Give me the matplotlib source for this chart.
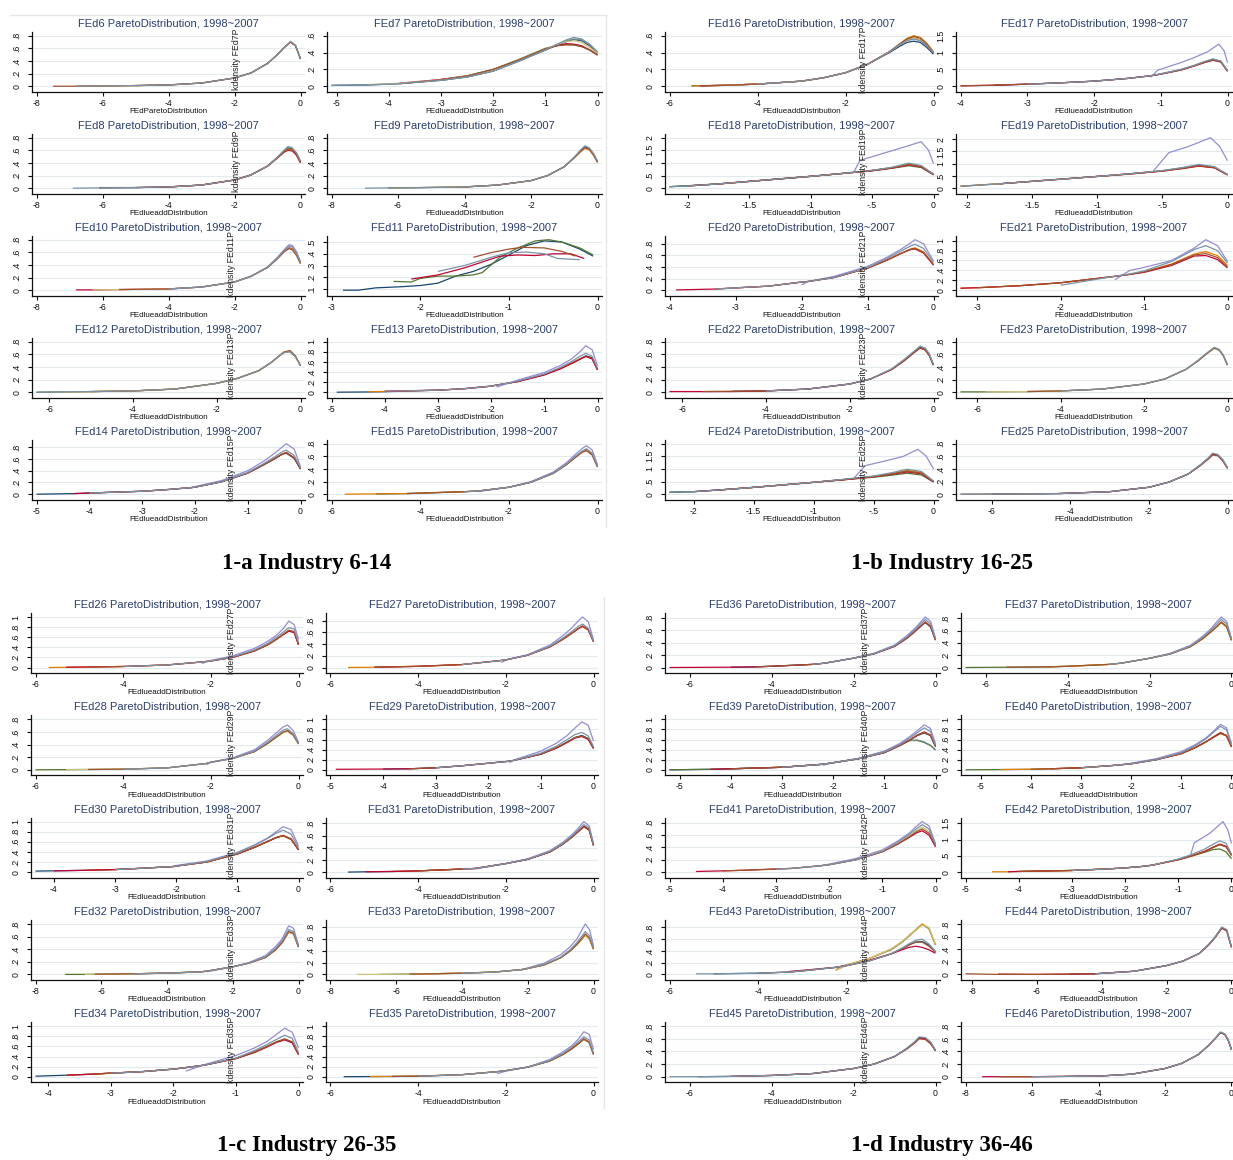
import matplotlib
matplotlib.use('Agg')
import matplotlib.pyplot as plt
import numpy as np

plt.rcParams['font.family'] = ['Liberation Sans Narrow', 'Arial Narrow', 'DejaVu Sans Condensed', 'Liberation Sans', 'DejaVu Sans']

# Stata s2color palette (one colour per year 1998..2007)
COL = {'navy': '#1a476f', 'maroon': '#90353b', 'green': '#55752f', 'orange': '#e37e00',
       'teal': '#6e8e84', 'red': '#c10534', 'lav': '#938dd2', 'khaki': '#cac27e',
       'sienna': '#a0522d', 'blue': '#7b92a8'}
YEAR_ORDER = ['navy', 'maroon', 'green', 'orange', 'teal', 'red', 'lav', 'khaki', 'sienna', 'blue']

YT8 = [0, .2, .4, .6, .8]
YT1 = [0, .2, .4, .6, .8, 1]
XT8 = [-8, -6, -4, -2, 0]
XT6 = [-6, -4, -2, 0]
XT5 = [-5, -4, -3, -2, -1, 0]
XT4 = [-4, -3, -2, -1, 0]
XT2 = [-2, -1.5, -1, -.5, 0]

# ---------------- 1-a Industry 6-14 ----------------
FEd6 = dict(name='FEd6', xl='FEdParetoDistribution', xt=XT8, yt=YT8,
    x=[-7.5, -6.8, -6, -5, -4, -3, -2, -1.5, -1, -0.7, -0.5, -0.3, -0.15, 0],
    lines=[('sienna', [0, 0, .003, .01, .02, .05, .13, .21, .36, .50, .61, .70, .64, .43]),
           ('orange', [0, .003, .01, .02, .05, .13, .21, .36, .50, .61, .70, .64, .43]),
           ('navy', [.01, .02, .05, .13, .21, .36, .50, .61, .70, .64, .43]),
           ('blue', [0, .004, .01, .02, .05, .13, .21, .36, .50, .61, .71, .65, .44])])
FEd7 = dict(name='FEd7', xt=XT5, yt=[0, .2, .4, .6],
    x=[-5.1, -4.4, -3.8, -3, -2.5, -2, -1.5, -1, -0.8, -0.6, -0.45, -0.3, -0.15, 0],
    lines=[('navy', [.01, .015, .03, .07, .11, .18, .30, .43, .48, .53, .555, .54, .48, .40]),
           ('khaki', [.02, .035, .075, .12, .19, .31, .44, .49, .53, .54, .52, .46, .39]),
           ('sienna', [.03, .075, .12, .2, .31, .44, .48, .49, .49, .47, .43, .37]),
           ('green', [.08, .125, .2, .32, .45, .48, .50, .49, .47, .43, .38]),
           ('red', [.035, .08, .12, .19, .31, .44, .48, .505, .50, .48, .43, .37]),
           ('teal', [.07, .11, .18, .30, .43, .49, .54, .56, .55, .49, .40]),
           ('blue', [.01, .015, .03, .07, .11, .18, .30, .43, .49, .55, .58, .56, .50, .41])])
FEd8 = dict(name='FEd8', xt=XT8, yt=YT8,
    x=[-6.9, -6.1, -5, -4, -3, -2, -1.5, -1, -0.7, -0.5, -0.38, -0.25, -0.12, 0],
    lines=[('navy', [.005, .01, .02, .05, .13, .21, .35, .49, .59, .64, .62, .55, .42]),
           ('sienna', [.01, .01, .02, .05, .13, .21, .35, .48, .57, .61, .60, .53, .41]),
           ('red', [.01, .02, .05, .13, .21, .35, .48, .57, .60, .59, .52, .40]),
           ('orange', [.02, .05, .13, .21, .35, .48, .58, .62, .61, .53, .41]),
           ('blue', [0, .005, .01, .02, .05, .13, .21, .35, .49, .60, .66, .64, .56, .43])])
FEd9 = dict(name='FEd9', xt=XT8, yt=YT8,
    x=[-7, -6.3, -5.5, -4, -3, -2, -1.5, -1, -0.7, -0.5, -0.38, -0.25, -0.12, 0],
    lines=[('orange', [.01, .01, .02, .05, .12, .20, .34, .48, .58, .63, .61, .52, .41]),
           ('sienna', [.02, .05, .12, .20, .34, .48, .59, .64, .62, .53, .41]),
           ('navy', [.005, .008, .02, .05, .12, .20, .34, .49, .60, .66, .63, .54, .42]),
           ('blue', [0, .005, .008, .02, .05, .12, .20, .34, .49, .61, .67, .64, .55, .43])])
FEd10 = dict(name='FEd10', xt=XT8, yt=YT8,
    x=[-6.8, -6.3, -5.5, -4, -3, -2, -1.5, -1, -0.7, -0.5, -0.35, -0.25, -0.12, 0],
    lines=[('red', [.005, .005, .01, .02, .05, .13, .22, .36, .50, .61, .67, .66, .57, .43]),
           ('khaki', [.005, .01, .02, .05, .13, .22, .36, .50, .61, .66, .65, .56, .42]),
           ('sienna', [.01, .02, .05, .13, .22, .36, .50, .61, .66, .64, .55, .42]),
           ('blue', [.02, .05, .13, .22, .36, .51, .63, .70, .69, .59, .44]),
           ('lav', [.02, .05, .13, .22, .37, .52, .64, .72, .71, .61, .45])])
FEd11 = dict(name='FEd11', xt=[-3, -2, -1, 0], yt=[.1, .2, .3, .4, .5], x=None,
    lines=[('navy', [-2.87, -2.7, -2.5, -2.2, -2, -1.8, -1.6, -1.4, -1.2, -1, -0.8, -0.6, -0.4, -0.2, -0.05],
                    [.09, .09, .11, .12, .13, .15, .21, .25, .31, .39, .47, .51, .50, .44, .38]),
           ('green', [-2.3, -2.1, -2, -1.8, -1.6, -1.4, -1.3, -1.1, -0.9, -0.7, -0.55, -0.4, -0.2, -0.05],
                     [.165, .16, .19, .21, .21, .22, .24, .37, .45, .51, .52, .50, .45, .39]),
           ('sienna', [-1.4, -1.2, -1, -0.85, -0.6, -0.4, -0.25], [.37, .41, .44, .455, .45, .42, .38]),
           ('blue', [-1.8, -1.5, -1.2, -1, -0.8, -0.6, -0.45, -0.2], [.25, .30, .37, .41, .415, .40, .36, .35]),
           ('red', [-2.1, -1.8, -1.5, -1.3, -1.1, -0.9, -0.7, -0.5, -0.3, -0.15],
                   [.185, .22, .28, .33, .38, .39, .385, .40, .40, .36])])
FEd12 = dict(name='FEd12', xt=XT6, yt=YT8,
    x=[-6.3, -5.6, -5, -4, -3, -2, -1.5, -1, -0.7, -0.5, -0.38, -0.25, -0.12, 0],
    lines=[('orange', [.005, .01, .02, .05, .14, .22, .34, .47, .58, .64, .64, .56, .42]),
           ('sienna', [.01, .02, .05, .14, .22, .34, .47, .58, .64, .66, .57, .42]),
           ('blue', [0, .005, .01, .02, .05, .14, .22, .34, .47, .58, .63, .64, .56, .42]),
           ('khaki', [.005, .01, .02, .05, .14, .22, .34, .47, .58, .64, .64, .56, .42]),
           ('green', [0, .005, .01, .02, .05, .14, .22, .34, .47, .58, .64, .65, .57, .42])])
FEd13 = dict(name='FEd13', xt=XT5, yt=YT1,
    x=[-4.9, -4.3, -4, -3, -2.5, -2, -1.9, -1.5, -1, -0.7, -0.5, -0.35, -0.22, -0.1, 0],
    lines=[('navy', [0, .005, .01, .04, .07, .12, .14, .21, .35, .47, .57, .65, .72, .68, .45]),
           ('orange', [.01, .015, .04, .07, .12, .14, .21, .35, .47, .57, .65, .71, .66, .44]),
           ('red', [.02, .04, .07, .12, .14, .21, .34, .46, .56, .64, .71, .66, .44]),
           ('blue', [.02, .04, .07, .12, .14, .22, .36, .49, .60, .70, .77, .71, .47]),
           ('lav', [.10, .24, .39, .53, .65, .78, .92, .84, .52])])
FEd14 = dict(name='FEd14', xt=XT5, yt=YT8,
    x=[-5, -4.3, -4, -3, -2.5, -2.1, -2, -1.5, -1, -0.7, -0.5, -0.35, -0.27, -0.12, 0],
    lines=[('navy', [0, .01, .02, .05, .08, .11, .12, .21, .36, .50, .60, .68, .70, .61, .43]),
           ('red', [.01, .02, .05, .08, .11, .12, .21, .36, .50, .60, .68, .71, .62, .43]),
           ('sienna', [.02, .05, .08, .11, .12, .21, .36, .50, .60, .68, .71, .62, .43]),
           ('blue', [.02, .05, .08, .11, .12, .21, .37, .52, .63, .72, .75, .66, .45]),
           ('lav', [.09, .13, .23, .40, .56, .69, .80, .86, .77, .47])])
FEd15 = dict(name='FEd15', xt=XT6, yt=YT8,
    x=[-5.7, -5, -4.3, -3, -2.7, -2, -1.5, -1, -0.7, -0.5, -0.35, -0.25, -0.12, 0],
    lines=[('orange', [0, .005, .01, .04, .05, .11, .19, .33, .47, .59, .67, .70, .63, .43]),
           ('navy', [.005, .01, .04, .05, .11, .19, .33, .47, .59, .67, .71, .64, .44]),
           ('sienna', [.01, .04, .05, .11, .19, .33, .47, .58, .66, .69, .62, .43]),
           ('blue', [.04, .05, .11, .19, .33, .48, .60, .68, .72, .65, .44]),
           ('lav', [.04, .11, .20, .35, .50, .63, .72, .77, .70, .47])])

# ---------------- 1-b Industry 16-25 ----------------
FEd16 = dict(name='FEd16', xt=XT6, yt=[0, .2, .4, .6],
    x=[-5.5, -5.3, -4.8, -4, -3, -2.5, -2, -1.5, -1, -0.75, -0.6, -0.45, -0.3, -0.15, 0],
    lines=[('navy', [.005, .005, .01, .025, .06, .10, .16, .26, .40, .48, .52, .535, .52, .46, .38]),
           ('red', [.005, .01, .025, .06, .10, .16, .26, .41, .50, .55, .57, .55, .48, .40]),
           ('khaki', [.01, .025, .06, .10, .16, .26, .41, .50, .55, .57, .55, .49, .40]),
           ('blue', [.025, .06, .10, .16, .26, .41, .50, .54, .56, .54, .48, .40]),
           ('sienna', [.005, .01, .025, .06, .10, .16, .26, .41, .51, .56, .59, .57, .50, .40]),
           ('orange', [.005, .005, .01, .025, .06, .10, .16, .26, .41, .51, .57, .60, .58, .51, .41])])
FEd17 = dict(name='FEd17', xt=XT4, yt=[0, .5, 1, 1.5],
    x=[-4, -3.5, -3, -2.5, -2, -1.5, -1.15, -1, -0.7, -0.5, -0.35, -0.22, -0.1, 0],
    lines=[('red', [.01, .03, .06, .1, .15, .23, .31, .36, .48, .60, .70, .77, .72, .44]),
           ('sienna', [.01, .03, .06, .1, .15, .23, .31, .36, .48, .60, .70, .78, .72, .45]),
           ('navy', [.03, .06, .1, .15, .23, .31, .36, .49, .61, .72, .80, .74, .46]),
           ('blue', [.06, .1, .15, .23, .31, .37, .50, .62, .73, .81, .75, .46]),
           ('lav', [-1.15, -1.05, -0.9, -0.7, -0.5, -0.3, -0.13, -0.05, 0],
                   [.26, .47, .57, .70, .85, 1.02, 1.25, 1.05, .70])])
FEd18 = dict(name='FEd18', xt=XT2, yt=[0, .5, 1, 1.5, 2],
    x=[-2.15, -2, -1.75, -1.5, -1.25, -1, -0.75, -0.5, -0.35, -0.2, -0.1, 0],
    lines=[('green', [.06, .10, .17, .27, .37, .47, .58, .69, .78, .89, .82, .53]),
           ('red', [.09, .17, .27, .37, .47, .58, .69, .79, .92, .84, .54]),
           ('navy', [.06, .09, .17, .27, .37, .47, .58, .70, .80, .95, .86, .55]),
           ('orange', [.17, .27, .37, .47, .58, .70, .80, .94, .86, .55]),
           ('sienna', [.09, .17, .27, .37, .47, .58, .70, .80, .93, .85, .55]),
           ('blue', [.06, .09, .17, .27, .37, .47, .58, .71, .82, .99, .90, .56]),
           ('lav', [-0.65, -0.6, -0.45, -0.3, -0.1, -0.04, 0], [.62, 1.1, 1.32, 1.54, 1.84, 1.5, .98])])
FEd19 = dict(name='FEd19', xt=XT2, yt=[0, .5, 1, 1.5, 2],
    x=[-2.05, -1.75, -1.5, -1.25, -1, -0.75, -0.5, -0.35, -0.22, -0.1, 0],
    lines=[('orange', [.08, .18, .28, .38, .48, .58, .70, .80, .91, .84, .55]),
           ('red', [.18, .28, .38, .48, .58, .70, .80, .90, .83, .54]),
           ('sienna', [.18, .28, .38, .48, .58, .70, .81, .92, .84, .55]),
           ('navy', [.08, .18, .28, .38, .48, .59, .71, .82, .93, .85, .55]),
           ('blue', [.08, .18, .28, .38, .48, .59, .72, .84, .97, .88, .56]),
           ('lav', [-0.57, -0.45, -0.3, -0.13, -0.06, 0], [.70, 1.45, 1.7, 2.06, 1.7, 1.12])])
FEd20 = dict(name='FEd20', xt=XT4, yt=YT8,
    x=[-3.9, -3.3, -3, -2.5, -2, -1.9, -1.5, -1, -0.7, -0.5, -0.35, -0.28, -0.15, 0],
    lines=[('red', [.005, .02, .04, .07, .14, .15, .22, .38, .52, .63, .70, .71, .64, .43]),
           ('sienna', [.02, .04, .07, .14, .15, .22, .38, .52, .63, .70, .72, .65, .44]),
           ('orange', [.04, .07, .14, .15, .22, .38, .52, .63, .71, .73, .66, .44]),
           ('blue', [.02, .04, .07, .14, .15, .22, .39, .55, .67, .76, .79, .72, .48]),
           ('lav', [.09, .15, .24, .41, .57, .70, .81, .87, .80, .50])])
FEd21 = dict(name='FEd21', xt=[-3, -2, -1, 0], yt=YT1,
    x=[-3.2, -3, -2.5, -2, -1.5, -1.35, -1.17, -1, -0.67, -0.4, -0.26, -0.12, 0],
    lines=[('orange', [.04, .05, .09, .15, .25, .28, .32, .37, .53, .73, .78, .70, .50]),
           ('sienna', [.05, .09, .15, .25, .28, .32, .37, .52, .71, .74, .66, .47]),
           ('red', [.04, .05, .09, .15, .25, .28, .32, .36, .50, .69, .70, .62, .45]),
           ('blue', [.10, .24, .28, .33, .39, .58, .82, .90, .80, .55]),
           ('lav', [.21, .40, .46, .60, .85, 1.02, .90, .58])])
FEd22 = dict(name='FEd22', xt=XT6, yt=YT8,
    x=[-6.3, -5.5, -4.8, -4, -3, -2, -1.5, -1, -0.7, -0.5, -0.32, -0.2, -0.1, 0],
    lines=[('red', [.01, .01, .01, .02, .05, .13, .21, .36, .50, .61, .70, .67, .58, .43]),
           ('sienna', [.01, .015, .02, .05, .13, .21, .36, .50, .61, .70, .67, .58, .43]),
           ('navy', [.015, .02, .05, .13, .21, .36, .50, .61, .71, .68, .59, .43]),
           ('blue', [.02, .05, .13, .21, .37, .52, .63, .73, .70, .61, .44])])
FEd23 = dict(name='FEd23', xt=XT6, yt=YT8,
    x=[-6.4, -5.8, -4.8, -4, -3, -2, -1.5, -1, -0.7, -0.5, -0.32, -0.2, -0.1, 0],
    lines=[('green', [.005, .005, .01, .02, .05, .13, .21, .36, .50, .61, .70, .67, .58, .43]),
           ('khaki', [.005, .01, .02, .05, .13, .21, .36, .50, .61, .69, .66, .57, .43]),
           ('sienna', [.01, .02, .05, .13, .21, .36, .50, .61, .70, .67, .58, .43]),
           ('blue', [.02, .05, .13, .21, .36, .51, .62, .71, .68, .59, .43])])
FEd24 = dict(name='FEd24', xt=XT2, yt=[0, .5, 1, 1.5, 2],
    x=[-2.2, -2, -1.75, -1.5, -1.25, -1, -0.75, -0.5, -0.35, -0.22, -0.1, 0],
    lines=[('green', [.07, .10, .18, .27, .37, .47, .57, .67, .75, .83, .76, .48]),
           ('red', [.10, .18, .27, .37, .47, .57, .69, .79, .88, .81, .49]),
           ('navy', [.08, .10, .18, .27, .37, .47, .58, .70, .81, .92, .84, .50]),
           ('sienna', [.18, .27, .37, .47, .58, .70, .80, .91, .83, .50]),
           ('orange', [.18, .27, .37, .47, .58, .70, .82, .94, .86, .51]),
           ('blue', [.08, .10, .18, .27, .37, .47, .59, .72, .85, .99, .90, .52]),
           ('lav', [-0.66, -0.57, -0.4, -0.25, -0.13, -0.06, 0], [.65, 1.13, 1.32, 1.5, 1.78, 1.5, 1.0])])
FEd25 = dict(name='FEd25', xt=XT6, yt=YT8,
    x=[-6.8, -6, -5, -4.3, -3, -2, -1.5, -1, -0.7, -0.5, -0.38, -0.25, -0.12, 0],
    lines=[('sienna', [0, .003, .005, .01, .04, .11, .19, .32, .45, .55, .62, .61, .53, .41]),
           ('navy', [.003, .005, .01, .04, .11, .19, .32, .46, .56, .64, .62, .54, .42]),
           ('red', [.01, .04, .11, .19, .32, .45, .56, .63, .62, .53, .41]),
           ('blue', [0, .003, .005, .01, .04, .11, .19, .32, .46, .57, .65, .63, .55, .42])])

# ---------------- 1-c Industry 26-35 ----------------
FEd26 = dict(name='FEd26', xt=XT6, yt=YT1,
    x=[-5.7, -5.3, -4.8, -4, -3, -2.2, -2, -1.5, -1, -0.7, -0.5, -0.35, -0.22, -0.1, 0],
    lines=[('orange', [0, .005, .01, .02, .05, .11, .13, .20, .33, .45, .56, .65, .73, .70, .45]),
           ('red', [.005, .01, .02, .05, .11, .13, .20, .33, .45, .56, .65, .72, .69, .45]),
           ('sienna', [.01, .02, .05, .11, .13, .20, .33, .45, .56, .66, .74, .71, .46]),
           ('blue', [.02, .05, .11, .13, .21, .35, .48, .60, .70, .79, .76, .50]),
           ('lav', [.08, .14, .23, .38, .52, .64, .77, .92, .85, .56])])
FEd27 = dict(name='FEd27', xt=XT6, yt=YT8,
    x=[-5.6, -5, -4, -3, -2.1, -2, -1.5, -1, -0.7, -0.5, -0.35, -0.25, -0.12, 0],
    lines=[('orange', [0, .005, .02, .05, .12, .13, .21, .35, .48, .58, .66, .70, .64, .44]),
           ('red', [.005, .02, .05, .12, .13, .21, .35, .48, .58, .66, .70, .64, .44]),
           ('sienna', [.005, .02, .05, .12, .13, .21, .35, .48, .58, .66, .71, .65, .44]),
           ('blue', [.05, .12, .13, .21, .36, .50, .61, .70, .74, .67, .45]),
           ('lav', [.08, .13, .22, .38, .54, .67, .79, .86, .78, .47])])
FEd28 = dict(name='FEd28', xt=XT6, yt=YT8,
    x=[-6, -5.3, -4.8, -4, -3, -2.1, -2, -1.5, -1, -0.7, -0.5, -0.35, -0.25, -0.12, 0],
    lines=[('green', [0, .003, .005, .01, .03, .10, .12, .18, .29, .42, .52, .59, .62, .55, .41]),
           ('khaki', [.003, .005, .01, .03, .10, .12, .18, .29, .42, .52, .59, .61, .54, .41]),
           ('sienna', [.005, .01, .03, .10, .12, .18, .29, .42, .52, .60, .62, .55, .41]),
           ('blue', [.01, .03, .10, .12, .18, .30, .44, .55, .63, .65, .57, .42]),
           ('lav', [.08, .12, .19, .32, .47, .59, .68, .71, .62, .44])])
FEd29 = dict(name='FEd29', xt=XT5, yt=YT1,
    x=[-4.9, -4, -3.5, -3, -2.5, -2, -1.6, -1.5, -1, -0.7, -0.5, -0.35, -0.22, -0.1, 0],
    lines=[('red', [.01, .015, .02, .04, .08, .13, .17, .19, .31, .43, .54, .63, .66, .60, .42]),
           ('sienna', [.02, .04, .08, .13, .17, .19, .31, .44, .55, .64, .67, .61, .43]),
           ('navy', [.015, .02, .04, .08, .13, .17, .19, .31, .44, .55, .64, .68, .62, .43]),
           ('blue', [.04, .08, .13, .17, .19, .33, .47, .60, .70, .74, .67, .46]),
           ('lav', [.14, .20, .37, .53, .68, .83, .95, .88, .57])])
FEd30 = dict(name='FEd30', xt=XT4, yt=YT1,
    x=[-4.3, -4, -3.5, -3, -2.5, -2.05, -2, -1.5, -1, -0.7, -0.5, -0.35, -0.25, -0.12, 0],
    lines=[('navy', [.02, .025, .035, .05, .08, .11, .12, .20, .36, .50, .61, .69, .72, .65, .44]),
           ('red', [.025, .035, .05, .08, .11, .12, .20, .36, .50, .61, .69, .72, .65, .44]),
           ('orange', [.035, .05, .08, .11, .12, .20, .36, .50, .61, .69, .73, .66, .44]),
           ('sienna', [.05, .08, .11, .12, .20, .36, .50, .61, .69, .72, .65, .44]),
           ('blue', [.05, .08, .11, .12, .21, .38, .54, .67, .78, .83, .75, .48]),
           ('lav', [.10, .13, .22, .39, .55, .68, .81, .90, .84, .52])])
FEd31 = dict(name='FEd31', xt=XT6, yt=YT8,
    x=[-5.6, -5.2, -4.6, -4, -3, -2.7, -2, -1.5, -1, -0.7, -0.5, -0.35, -0.22, -0.1, 0],
    lines=[('navy', [0, .005, .01, .02, .05, .06, .14, .21, .33, .46, .57, .67, .75, .70, .44]),
           ('red', [.005, .01, .02, .05, .06, .14, .21, .33, .46, .57, .67, .75, .70, .44]),
           ('orange', [.01, .02, .05, .06, .14, .21, .33, .46, .57, .67, .75, .70, .44]),
           ('sienna', [.02, .05, .06, .14, .21, .33, .46, .57, .66, .74, .69, .44]),
           ('blue', [.05, .06, .14, .21, .34, .47, .59, .69, .78, .73, .46]),
           ('lav', [.05, .14, .22, .35, .49, .61, .72, .83, .76, .47])])
FEd32 = dict(name='FEd32', xt=XT8, yt=YT8,
    x=[-7.1, -6.5, -6.2, -5, -4, -3, -2.8, -2, -1.5, -1, -0.7, -0.5, -0.3, -0.15, 0],
    lines=[('green', [0, 0, .003, .01, .02, .04, .05, .12, .18, .27, .39, .51, .68, .65, .44]),
           ('khaki', [0, .003, .01, .02, .04, .05, .12, .18, .27, .39, .51, .67, .64, .44]),
           ('sienna', [.003, .01, .02, .04, .05, .12, .18, .27, .39, .51, .68, .65, .44]),
           ('red', [.01, .02, .04, .05, .12, .18, .27, .39, .50, .67, .64, .43]),
           ('blue', [.01, .02, .04, .05, .12, .18, .28, .41, .53, .71, .68, .45]),
           ('lav', [.04, .12, .19, .30, .44, .56, .77, .73, .46])])
FEd33 = dict(name='FEd33', xt=XT8, yt=YT8,
    x=[-7.2, -6.5, -5.6, -5, -4, -3, -2.2, -2, -1.5, -1, -0.7, -0.5, -0.25, -0.12, 0],
    lines=[('khaki', [0, 0, .005, .01, .02, .04, .08, .10, .16, .28, .40, .51, .67, .60, .43]),
           ('green', [0, .005, .01, .02, .04, .08, .10, .16, .28, .40, .51, .66, .60, .43]),
           ('sienna', [.005, .01, .02, .04, .08, .10, .16, .28, .40, .51, .68, .61, .43]),
           ('orange', [.005, .01, .02, .04, .08, .10, .16, .28, .40, .50, .66, .59, .42]),
           ('blue', [.02, .04, .08, .10, .17, .29, .42, .54, .72, .65, .45]),
           ('lav', [.07, .11, .19, .33, .47, .60, .85, .75, .48])])
FEd34 = dict(name='FEd34', xt=XT4, yt=YT1,
    x=[-4.2, -3.7, -3.3, -3, -2.5, -2, -1.8, -1.5, -1, -0.7, -0.5, -0.35, -0.22, -0.1, 0],
    lines=[('navy', [.01, .03, .05, .07, .10, .15, .18, .23, .36, .49, .60, .69, .74, .68, .44]),
           ('orange', [.03, .05, .07, .10, .15, .18, .23, .36, .49, .60, .69, .74, .68, .44]),
           ('red', [.03, .05, .07, .10, .15, .18, .23, .36, .48, .59, .68, .73, .67, .44]),
           ('sienna', [.05, .07, .10, .15, .18, .23, .36, .49, .60, .69, .75, .69, .45]),
           ('blue', [.07, .10, .15, .18, .23, .37, .52, .64, .74, .82, .76, .48]),
           ('lav', [.11, .24, .42, .57, .70, .84, .96, .88, .57])])
FEd35 = dict(name='FEd35', xt=XT6, yt=YT1,
    x=[-5.7, -5.1, -4.6, -4, -3, -2.2, -2, -1.5, -1, -0.7, -0.5, -0.35, -0.22, -0.1, 0],
    lines=[('navy', [0, .003, .005, .01, .04, .10, .12, .19, .31, .44, .55, .65, .74, .68, .44]),
           ('orange', [.003, .005, .01, .04, .10, .12, .19, .31, .44, .55, .65, .74, .68, .44]),
           ('sienna', [.005, .01, .04, .10, .12, .19, .31, .44, .55, .65, .75, .69, .45]),
           ('blue', [.01, .04, .10, .12, .19, .32, .46, .58, .69, .79, .73, .47]),
           ('lav', [.06, .11, .19, .34, .49, .61, .74, .89, .84, .54])])

# ---------------- 1-d Industry 36-46 ----------------
FEd36 = dict(name='FEd36', xt=XT6, yt=YT8,
    x=[-6.5, -5, -4.4, -4, -3, -2.7, -2, -1.5, -1, -0.7, -0.5, -0.35, -0.25, -0.12, 0],
    lines=[('red', [0, .005, .01, .02, .05, .07, .15, .22, .34, .47, .58, .67, .73, .66, .44]),
           ('navy', [.005, .01, .02, .05, .07, .15, .22, .34, .47, .58, .67, .72, .65, .44]),
           ('sienna', [.01, .02, .05, .07, .15, .22, .34, .47, .58, .67, .73, .66, .44]),
           ('blue', [.05, .07, .15, .22, .35, .49, .61, .71, .77, .70, .46]),
           ('lav', [.07, .15, .23, .36, .51, .63, .74, .81, .74, .47])])
FEd37 = dict(name='FEd37', xt=XT6, yt=YT8,
    x=[-6.5, -5.5, -4.5, -4, -3, -2.7, -2, -1.5, -1, -0.7, -0.5, -0.35, -0.25, -0.12, 0],
    lines=[('green', [0, .005, .01, .02, .05, .07, .15, .22, .34, .47, .58, .67, .73, .66, .44]),
           ('sienna', [.005, .01, .02, .05, .07, .15, .22, .34, .47, .58, .67, .74, .67, .45]),
           ('orange', [.01, .02, .05, .07, .15, .22, .34, .47, .58, .67, .73, .66, .44]),
           ('blue', [.05, .07, .15, .22, .35, .49, .61, .71, .78, .71, .46]),
           ('lav', [.07, .15, .23, .36, .51, .63, .75, .82, .75, .47])])
FEd39 = dict(name='FEd39', xt=XT5, yt=YT1,
    x=[-5.2, -4.4, -4, -3, -2.2, -2, -1.5, -1, -0.7, -0.5, -0.35, -0.22, -0.1, 0],
    lines=[('navy', [0, .01, .02, .05, .11, .14, .22, .34, .48, .59, .68, .73, .68, .46]),
           ('red', [.01, .02, .05, .11, .14, .22, .34, .48, .59, .69, .75, .69, .47]),
           ('sienna', [.02, .05, .11, .14, .22, .34, .48, .59, .69, .74, .68, .46]),
           ('green', [0, .01, .02, .05, .11, .14, .22, .36, .50, .58, .58, .54, .48, .39]),
           ('teal', [.02, .05, .11, .14, .22, .36, .50, .58, .59, .55, .49, .40]),
           ('blue', [.05, .11, .14, .22, .35, .50, .63, .74, .83, .76, .49]),
           ('lav', [.09, .14, .23, .37, .52, .66, .78, .89, .82, .52])])
FEd40 = dict(name='FEd40', xt=XT5, yt=YT1,
    x=[-5.3, -4.6, -4, -3.6, -3, -2.3, -2, -1.5, -1, -0.7, -0.5, -0.35, -0.22, -0.1, 0],
    lines=[('green', [0, .005, .01, .02, .04, .09, .12, .20, .32, .45, .56, .65, .72, .67, .45]),
           ('orange', [.005, .01, .02, .04, .09, .12, .20, .32, .45, .56, .65, .72, .67, .45]),
           ('sienna', [.01, .02, .04, .09, .12, .20, .32, .45, .56, .66, .74, .68, .46]),
           ('red', [.02, .04, .09, .12, .20, .32, .45, .56, .65, .73, .68, .46]),
           ('blue', [.04, .09, .12, .20, .34, .49, .62, .75, .86, .79, .50]),
           ('lav', [.08, .13, .22, .36, .51, .64, .77, .90, .83, .52])])
FEd41 = dict(name='FEd41', xt=XT5, yt=YT8,
    x=[-4.5, -4, -3.6, -3, -2.7, -2.2, -2, -1.5, -1, -0.7, -0.5, -0.35, -0.25, -0.12, 0],
    lines=[('red', [.01, .02, .03, .05, .06, .10, .12, .20, .33, .46, .56, .64, .67, .60, .41]),
           ('sienna', [.02, .03, .05, .06, .10, .12, .20, .33, .46, .57, .66, .70, .63, .43]),
           ('khaki', [.05, .06, .10, .12, .20, .34, .48, .59, .68, .73, .66, .44]),
           ('blue', [.05, .06, .10, .12, .20, .34, .49, .61, .71, .77, .70, .45]),
           ('lav', [.09, .13, .22, .36, .51, .63, .75, .82, .75, .46])])
FEd42 = dict(name='FEd42', xt=XT5, yt=[0, .5, 1, 1.5],
    x=[-4.5, -4.2, -4, -3, -2.3, -2, -1.7, -1.5, -1, -0.75, -0.5, -0.35, -0.22, -0.1, 0],
    lines=[('orange', [.01, .01, .02, .05, .10, .13, .17, .21, .38, .50, .64, .76, .85, .78, .52]),
           ('red', [.01, .02, .05, .10, .13, .17, .21, .38, .50, .64, .76, .86, .79, .52]),
           ('sienna', [.02, .05, .10, .13, .17, .21, .38, .50, .63, .75, .84, .77, .51]),
           ('green', [.02, .05, .10, .13, .17, .21, .38, .49, .61, .69, .71, .62, .41]),
           ('blue', [.05, .10, .13, .17, .21, .40, .54, .71, .85, .96, .88, .55]),
           ('lav', [-0.77, -0.7, -0.6, -0.4, -0.16, -0.07, 0], [.52, .9, 1.0, 1.2, 1.55, 1.3, .88])])
FEd43 = dict(name='FEd43', xt=XT6, yt=YT8,
    x=[-5.4, -5, -4, -3.3, -3, -2.25, -2, -1.5, -1, -0.75, -0.6, -0.45, -0.3, -0.15, 0],
    lines=[('blue', [.01, .01, .02, .04, .06, .12, .15, .23, .35, .45, .52, .58, .60, .52, .39]),
           ('navy', [.01, .02, .04, .06, .12, .15, .23, .35, .44, .50, .55, .56, .50, .38]),
           ('sienna', [.02, .04, .06, .12, .15, .23, .35, .44, .50, .55, .55, .48, .38]),
           ('red', [.05, .07, .12, .16, .24, .35, .42, .46, .48, .46, .42, .36]),
           ('khaki', [.07, .16, .27, .43, .56, .66, .75, .84, .80, .51]),
           ('orange', [.07, .16, .27, .43, .56, .66, .76, .86, .79, .51]),
           ('green', [.08, .16, .27, .42, .55, .65, .75, .85, .78, .50])])
FEd44 = dict(name='FEd44', xt=XT8, yt=YT8,
    x=[-8.2, -7.2, -6, -5, -4.2, -3, -2, -1.5, -1, -0.7, -0.5, -0.3, -0.15, 0],
    lines=[('sienna', [.01, 0, 0, .005, .01, .05, .14, .21, .33, .47, .59, .74, .70, .43]),
           ('red', [.005, 0, .005, .01, .05, .14, .21, .33, .47, .59, .73, .69, .43]),
           ('navy', [.005, .01, .05, .14, .21, .33, .47, .59, .74, .70, .43]),
           ('blue', [.01, .05, .14, .21, .33, .48, .60, .75, .71, .44])])
FEd45 = dict(name='FEd45', xt=XT6, yt=YT8,
    x=[-6.5, -5.8, -5, -4, -3, -2, -1.5, -1, -0.7, -0.5, -0.4, -0.25, -0.12, 0],
    lines=[('blue', [0, 0, .005, .02, .05, .13, .20, .32, .45, .56, .63, .62, .55, .42]),
           ('navy', [0, .005, .02, .05, .13, .20, .32, .45, .55, .62, .61, .54, .42]),
           ('sienna', [.005, .02, .05, .13, .20, .32, .44, .54, .60, .59, .52, .41]),
           ('red', [.005, .02, .05, .13, .20, .32, .44, .54, .61, .60, .53, .41])])
FEd46 = dict(name='FEd46', xt=XT8, yt=YT8,
    x=[-7.5, -7, -6, -5, -4, -3, -2, -1.5, -1, -0.7, -0.5, -0.33, -0.2, -0.1, 0],
    lines=[('red', [0, 0, 0, .005, .01, .04, .13, .21, .35, .49, .60, .70, .67, .58, .43]),
           ('sienna', [0, 0, .005, .01, .04, .13, .21, .35, .49, .60, .70, .67, .58, .43]),
           ('blue', [0, .005, .01, .04, .13, .21, .35, .49, .60, .71, .68, .59, .43]),
           ('navy', [.005, .01, .04, .13, .21, .35, .49, .60, .70, .67, .58, .43])])

PANELS_A = [FEd6, FEd7, FEd8, FEd9, FEd10, FEd11, FEd12, FEd13, FEd14, FEd15]
PANELS_B = [FEd16, FEd17, FEd18, FEd19, FEd20, FEd21, FEd22, FEd23, FEd24, FEd25]
PANELS_C = [FEd26, FEd27, FEd28, FEd29, FEd30, FEd31, FEd32, FEd33, FEd34, FEd35]
PANELS_D = [FEd36, FEd37, FEd39, FEd40, FEd41, FEd42, FEd43, FEd44, FEd45, FEd46]
CAPTIONS = ['1-a Industry 6-14', '1-b Industry 16-25', '1-c Industry 26-35', '1-d Industry 36-46']

# ---------------- layout (pixels) ----------------
W, H = 1233, 1160
RH = 60.0
QUADS = [
    (PANELS_A, [(32, 305), (327, 602)], 31.7, 102.0, [237, 237, 232, 231, 231], (307, 563)),
    (PANELS_B, [(665, 938), (956, 1232)], 31.7, 102.0, [864, 864, 864, 864, 864], (942, 563)),
    (PANELS_C, [(31, 303), (326, 598)], 613.0, 102.3, [231, 231, 231, 231, 231], (307, 1145)),
    (PANELS_D, [(665, 940), (961, 1236)], 613.0, 102.3, [865, 865, 865, 865, 865], (942, 1145)),
]

TITLE_C = '#2c3e6e'
GRID_C = '#e2eaee'


def stata_fmt(v):
    s = '%g' % v
    if s.startswith('-0.'):
        s = '-' + s[2:]
    elif s.startswith('0.'):
        s = s[1:]
    return s


def curves(p):
    out = []
    for ln in p['lines']:
        if len(ln) == 3:
            out.append((ln[0], list(ln[1]), list(ln[2])))
        else:
            ys = list(ln[1])
            n = min(len(ys), len(p['x']))
            out.append((ln[0], p['x'][-n:], ys[-n:]))
    # Stata draws the years in order; later years end up on top
    out.sort(key=lambda t: YEAR_ORDER.index(t[0]))
    return out


fig = plt.figure(figsize=(W / 100, H / 100), dpi=100)
fig.patch.set_facecolor('white')

for (panels, cols, top0, pitch, kx, cap_xy), caption in zip(QUADS, CAPTIONS):
    for i, p in enumerate(panels):
        r, c = divmod(i, 2)
        top = top0 + r * pitch
        x0, x1 = cols[c]
        ax = fig.add_axes([x0 / W, 1 - (top + RH) / H, (x1 - x0) / W, RH / H])
        cv = curves(p)
        for col, xs, ys in cv:
            ax.plot(xs, ys, color=COL[col], lw=0.9, solid_joinstyle='round', solid_capstyle='butt')
        dx = min(min(xs) for _, xs, _ in cv)
        dy0 = min(min(ys) for _, _, ys in cv)
        dy1 = max(max(ys) for _, _, ys in cv)
        lo = min(dx, p['xt'][0]); hi = max(0, p['xt'][-1])
        ppu = ((x1 - x0) - 9.0) / (hi - lo)
        ax.set_xlim(lo - 4.5 / ppu, hi + 4.5 / ppu)
        ylo = min(p['yt'][0], dy0); yhi = max(p['yt'][-1], dy1)
        ppy = (RH - 9.5) / (yhi - ylo)
        ax.set_ylim(ylo - 5.5 / ppy, yhi + 4.0 / ppy)
        ax.set_xticks(p['xt'])
        ax.set_xticklabels([stata_fmt(v) for v in p['xt']])
        ax.set_yticks(p['yt'])
        ax.set_yticklabels([stata_fmt(v) for v in p['yt']], rotation=90, va='center')
        ax.tick_params(axis='x', length=3, width=0.8, labelsize=6.3, pad=2.0, colors='#111111')
        ax.tick_params(axis='y', length=3, width=0.8, labelsize=6.3, pad=4.5, colors='#111111')
        ax.grid(axis='y', color=GRID_C, lw=0.8)
        ax.set_axisbelow(True)
        for s in ('top', 'right'):
            ax.spines[s].set_visible(False)
        for s in ('left', 'bottom'):
            ax.spines[s].set_color('#111111')
            ax.spines[s].set_linewidth(0.9)
        cx = (x0 + x1) / 2
        fig.text(cx / W, 1 - (top - 8.5) / H, p['name'] + ' ParetoDistribution, 1998~2007',
                 ha='center', va='center', fontsize=8, color=TITLE_C)
        fig.text(cx / W, 1 - (top + RH + 20) / H, p.get('xl', 'FEdlueaddDistribution'),
                 ha='center', va='center', fontsize=5.8, color='#111111')
        if c == 1:
            fig.text(kx[r] / W, 1 - (top + 28) / H, 'kdensity ' + p['name'] + 'P',
                     ha='center', va='center', rotation=90, fontsize=6.3, color='#222222', zorder=10)
    fig.text(cap_xy[0] / W, 1 - cap_xy[1] / H, caption, ha='center', va='center',
             fontsize=16.5, fontweight='bold', family=['Liberation Serif', 'DejaVu Serif'], color='black')

# faint borders of the embedded graph images
fig.add_artist(plt.Line2D([10 / W, 606 / W], [1 - 15 / H, 1 - 15 / H], color='#e6e6e6', lw=1))
fig.add_artist(plt.Line2D([606 / W, 606 / W], [1 - 15 / H, 1 - 527 / H], color='#e6e6e6', lw=1))
fig.add_artist(plt.Line2D([604 / W, 604 / W], [1 - 597 / H, 1 - 1108 / H], color='#e6e6e6', lw=1))

fig.savefig('out.png', dpi=100, facecolor='white')
